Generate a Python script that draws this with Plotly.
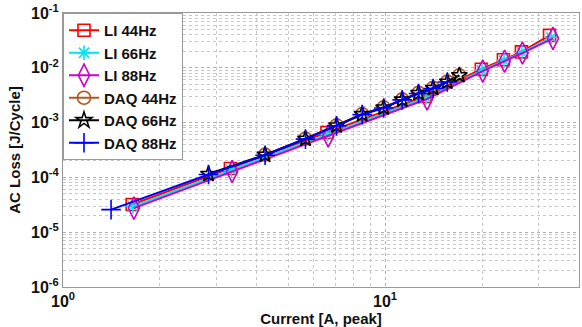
import plotly.graph_objects as go
import numpy as np

# ---- data ----
li_current_44 = [1.64, 3.31, 6.60, 13.3, 19.9, 23.3, 26.5, 32.4]
li_current_66 = [1.65, 3.33, 6.63, 13.4, 20.0, 23.4, 26.6, 32.8]
li_current_88 = [1.66, 3.35, 6.66, 13.5, 20.1, 23.5, 26.7, 33.2]
li_loss_44 = [3.2e-5, 1.45e-4, 6.6e-4, 3.0e-3, 9.4e-3, 1.40e-2, 1.95e-2, 3.9e-2]
li_loss_66 = [2.95e-5, 1.36e-4, 6.1e-4, 2.85e-3, 9.0e-3, 1.35e-2, 1.90e-2, 3.6e-2]
li_loss_88 = [2.75e-5, 1.28e-4, 5.7e-4, 2.7e-3, 8.7e-3, 1.32e-2, 1.86e-2, 3.45e-2]

daq_current_44 = [4.24, 5.66, 7.07, 8.49, 9.90, 11.3, 12.7, 14.1, 15.6, 17.0]
daq_loss_44 = [2.6e-4, 5.1e-4, 8.9e-4, 1.43e-3, 1.9e-3, 2.65e-3, 3.5e-3, 4.3e-3, 5.6e-3, 7.3e-3]
daq_current_66 = [2.83, 4.24, 5.66, 7.07, 8.49, 9.90, 11.3, 12.7, 14.1, 15.6, 17.0]
daq_loss_66 = [1.15e-4, 2.58e-4, 5.05e-4, 8.8e-4, 1.42e-3, 1.88e-3, 2.62e-3, 3.45e-3, 4.25e-3, 5.55e-3, 7.3e-3]
daq_current_88 = [1.41, 2.83, 4.24, 5.66, 7.07, 8.49, 9.90, 11.3, 12.7, 14.1, 15.6]
daq_loss_88 = [2.58e-5, 1.13e-4, 2.54e-4, 5.0e-4, 8.7e-4, 1.40e-3, 1.85e-3, 2.6e-3, 3.4e-3, 4.2e-3, 5.5e-3]

series_names = ["LI 44Hz", "LI 66Hz", "LI 88Hz", "DAQ 44Hz", "DAQ 66Hz", "DAQ 88Hz"]
x_tick_vals = [1, 10]
x_tick_text = ["<b>10<sup>0</sup></b>", "<b>10<sup>1</sup></b>"]
y_tick_vals = [1e-6, 1e-5, 1e-4, 1e-3, 1e-2, 1e-1]
y_tick_text = ["<b>10<sup>-6</sup></b>", "<b>10<sup>-5</sup></b>", "<b>10<sup>-4</sup></b>",
               "<b>10<sup>-3</sup></b>", "<b>10<sup>-2</sup></b>", "<b>10<sup>-1</sup></b>"]

styles = [
    (li_current_44, li_loss_44, "#ff0000", "square-open", 12),
    (li_current_66, li_loss_66, "#00e5ee", "asterisk-open", 12),
    (li_current_88, li_loss_88, "#cc00cc", "diamond-tall-open", 16),
    (daq_current_44, daq_loss_44, "#b5541c", "circle-open", 13),
    (daq_current_66, daq_loss_66, "#000000", "star-open", 12),
    (daq_current_88, daq_loss_88, "#0000ff", "cross-thin-open", 14),
]

fig = go.Figure()
for name, (xs, ys, col, sym, sz) in zip(series_names, styles):
    fig.add_trace(go.Scatter(
        x=xs, y=ys, name="<b>" + name + "</b>", mode="lines+markers",
        line=dict(color=col, width=2),
        marker=dict(symbol=sym, size=sz, color=col, line=dict(color=col, width=1.6)),
    ))

grid = dict(showgrid=True, gridcolor="#b0b0b0", griddash="dot", gridwidth=1)
fig.update_layout(
    width=582, height=327,
    margin=dict(l=63, r=2, t=13, b=34),
    paper_bgcolor="white", plot_bgcolor="white",
    font=dict(family="Liberation Sans, Arial", size=13, color="#111"),
    showlegend=True,
    legend=dict(x=0, y=1, xanchor="left", yanchor="top",
                bgcolor="white", bordercolor="#999", borderwidth=1,
                font=dict(size=15, family="Liberation Sans, Arial", color="#111"),
                tracegroupgap=0, itemwidth=30),
    xaxis=dict(type="log", range=[0, np.log10(40)], tickvals=x_tick_vals, ticktext=x_tick_text,
               tickfont=dict(size=16), showline=True, linecolor="#999", mirror=True,
               ticks="", zeroline=False,
               title=dict(text="<b>Current [A, peak]</b>", font=dict(size=15), standoff=4),
               minor=dict(showgrid=True, gridcolor="#c8c8c8", griddash="dot", dtick="D1"),
               **grid),
    yaxis=dict(type="log", range=[-6, -1], tickvals=y_tick_vals, ticktext=y_tick_text,
               tickfont=dict(size=16), showline=True, linecolor="#999", mirror=True,
               ticks="", zeroline=False,
               title=dict(text="<b>AC Loss [J/Cycle]</b>", font=dict(size=15), standoff=6),
               minor=dict(showgrid=True, gridcolor="#c8c8c8", griddash="dot", dtick="D1"),
               **grid),
)

fig.write_html("out.html")
